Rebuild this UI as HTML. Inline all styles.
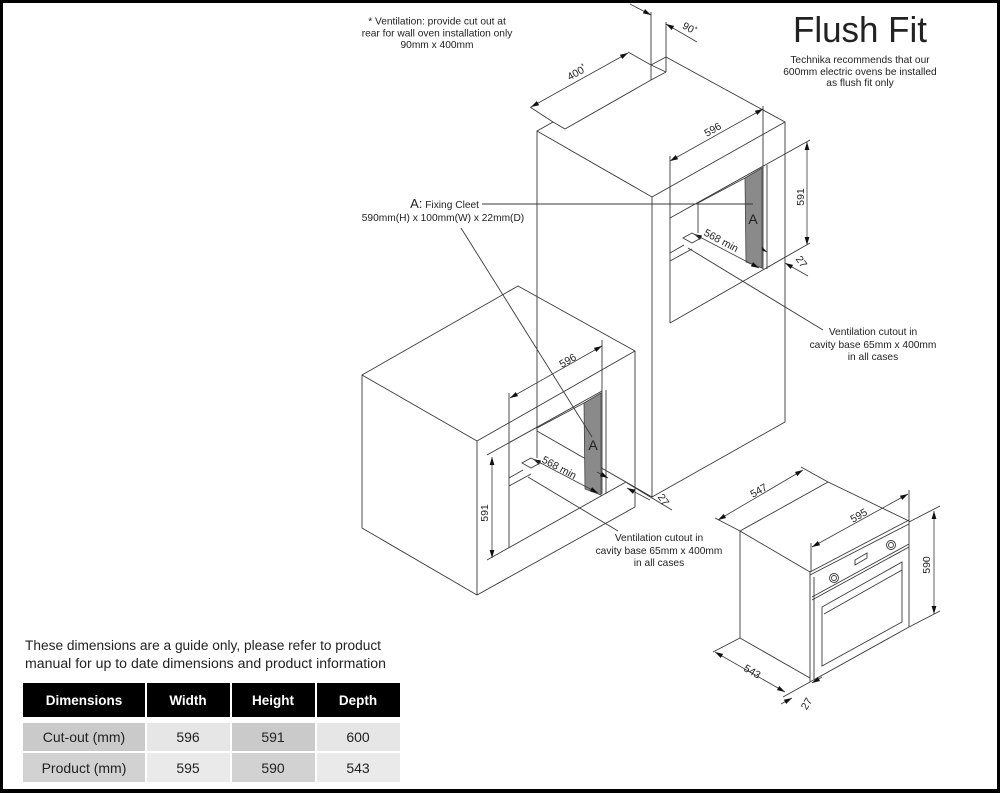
<!DOCTYPE html>
<html><head><meta charset="utf-8">
<style>
html,body{margin:0;padding:0;background:#fff}
svg{display:block}
.l{stroke:#3a3a3a;stroke-width:0.9;fill:none}
.d{stroke:#3a3a3a;stroke-width:0.8;fill:none;marker-start:url(#ar);marker-end:url(#ar)}
.e{stroke:#3a3a3a;stroke-width:0.8;fill:none;marker-end:url(#ar)}
text{font-family:"Liberation Sans",Arial,sans-serif;fill:#222}
.t{font-size:10.2px}
.dim{font-size:10.5px}
.tb{font-size:14px;fill:#222}
.th{font-size:13.5px;font-weight:bold;fill:#fff}
</style></head>
<body>
<svg width="1000" height="793" viewBox="0 0 1000 793" xmlns="http://www.w3.org/2000/svg">
<defs>
<marker id="ar" markerUnits="userSpaceOnUse" markerWidth="8" markerHeight="6" refX="8" refY="3" orient="auto-start-reverse" viewBox="0 0 8 6">
<path d="M0,0.6 L8,3 L0,5.4Z" fill="#111"/>
</marker>
</defs>
<rect x="0" y="0" width="1000" height="793" fill="#fff"/>

<!-- ===== TALL CABINET ===== -->
<polygon points="537,131 553,122 565,129 651,80 651,65 666,57 785,122 785,422 652,497 537,431" fill="#fff"/>
<polyline class="l" points="537,431 537,131 553,122 565,129 651,80"/>
<polyline class="l" points="651,65 666,57 785,122 785,422 652,497 537,431"/>
<polyline class="l" points="537,131 652,197 785,122"/>
<line class="l" x1="652" y1="197" x2="652" y2="497"/>
<line class="l" x1="651" y1="12" x2="651" y2="80"/>
<line class="l" x1="666" y1="22" x2="666" y2="72"/>
<line class="l" x1="666" y1="72" x2="651" y2="80"/>
<line class="l" x1="651" y1="65" x2="666" y2="72"/>
<!-- 90 dim -->
<line class="e" x1="630" y1="4" x2="651" y2="15"/>
<line class="e" x1="697" y1="42" x2="666" y2="24"/>
<text class="t" transform="translate(689,29) rotate(30)" text-anchor="middle" dominant-baseline="central">90<tspan font-size="7" dy="-3">*</tspan></text>
<!-- 400 dim -->
<line class="l" x1="530" y1="107" x2="553" y2="122"/>
<line class="l" x1="628" y1="52" x2="651" y2="65"/>
<line class="d" x1="531" y1="107" x2="628" y2="53"/>
<text class="dim" transform="translate(577,73) rotate(-30)" text-anchor="middle" dominant-baseline="central">400<tspan font-size="7" dy="-3">*</tspan></text>

<!-- tall opening -->
<line class="l" x1="670" y1="218" x2="810" y2="140"/>
<line class="l" x1="670" y1="323" x2="810" y2="243"/>
<line class="l" x1="670" y1="156" x2="670" y2="323"/>
<line class="l" x1="763" y1="106" x2="763" y2="269"/>
<line class="l" x1="767" y1="165" x2="767" y2="269"/>
<line class="d" x1="670" y1="161" x2="763" y2="109"/>
<text class="dim" transform="translate(713,130) rotate(-30)" text-anchor="middle" dominant-baseline="central">596</text>
<line class="d" x1="807" y1="142" x2="807" y2="245"/>
<text class="dim" transform="translate(801,197) rotate(-90)" text-anchor="middle" dominant-baseline="central">591</text>
<!-- 27 tall -->
<line class="e" x1="755" y1="245" x2="767" y2="252"/>
<line class="e" x1="808" y1="276" x2="785" y2="263"/>
<text class="dim" transform="translate(801,262) rotate(55)" text-anchor="middle" dominant-baseline="central">27</text>
<!-- tall interior -->
<polyline class="l" points="698,233 698,203 745,178"/>
<polygon points="745,178 762,168 762,268 746,262" fill="#8a8a8a" stroke="#444" stroke-width="0.8"/>
<line class="d" x1="694" y1="234" x2="759" y2="268"/>
<text class="dim" transform="translate(721,241) rotate(28)" text-anchor="middle" dominant-baseline="central">568 min</text>
<polygon class="l" points="683,238 692,233 701,238 692,243"/>
<line class="l" x1="670" y1="253" x2="684" y2="245"/>
<line class="l" x1="670" y1="261" x2="692" y2="249"/>
<line class="l" x1="688" y1="248" x2="823" y2="330"/>
<text x="753" y="224" font-size="14" text-anchor="middle">A</text>
<text class="t" x="873" y="335" text-anchor="middle">Ventilation cutout in</text>
<text class="t" x="873" y="348" text-anchor="middle">cavity base 65mm x 400mm</text>
<text class="t" x="873" y="360" text-anchor="middle">in all cases</text>

<!-- ===== LOWER CABINET ===== -->
<polygon class="l" points="362,375 518,286 635,351 635,507 477,595 362,528" fill="#fff"/>
<polyline class="l" points="362,375 477,441 635,351"/>
<line class="l" x1="477" y1="441" x2="477" y2="595"/>
<!-- lower opening -->
<line class="l" x1="487" y1="455" x2="602" y2="391"/>
<line class="l" x1="487" y1="560" x2="626" y2="482"/>
<line class="l" x1="509" y1="393" x2="509" y2="548"/>
<line class="l" x1="602" y1="340" x2="602" y2="494"/>
<line class="l" x1="606" y1="390" x2="606" y2="494"/>
<line class="d" x1="510" y1="398" x2="602" y2="346"/>
<text class="dim" transform="translate(568,361) rotate(-30)" text-anchor="middle" dominant-baseline="central">596</text>
<line class="d" x1="492" y1="457" x2="492" y2="558"/>
<text class="dim" transform="translate(485,513) rotate(-90)" text-anchor="middle" dominant-baseline="central">591</text>
<!-- lower interior -->
<polyline class="l" points="537,458 537,428 584,403"/>
<polygon points="584,403 601,393 601,495 585,489" fill="#8a8a8a" stroke="#444" stroke-width="0.8"/>
<line class="d" x1="533" y1="459" x2="598" y2="493"/>
<text class="dim" transform="translate(559,468) rotate(28)" text-anchor="middle" dominant-baseline="central">568 min</text>
<polygon class="l" points="522,463 531,458 540,463 531,468"/>
<line class="l" x1="509" y1="478" x2="523" y2="470"/>
<line class="l" x1="509" y1="486" x2="531" y2="474"/>
<line class="l" x1="528" y1="477" x2="618" y2="531"/>
<text x="593" y="450" font-size="14" text-anchor="middle">A</text>
<!-- lower 27 -->
<line class="e" x1="597" y1="472" x2="608" y2="478"/>
<line class="l" x1="627" y1="483" x2="672" y2="510"/>
<line class="e" x1="650" y1="500" x2="627" y2="488"/>
<text class="dim" transform="translate(663,500) rotate(55)" text-anchor="middle" dominant-baseline="central">27</text>
<text class="t" x="659" y="541" text-anchor="middle">Ventilation cutout in</text>
<text class="t" x="659" y="554" text-anchor="middle">cavity base 65mm x 400mm</text>
<text class="t" x="659" y="566" text-anchor="middle">in all cases</text>

<!-- leaders for A -->
<line class="l" x1="482" y1="204" x2="753" y2="204"/>
<line class="l" x1="461" y1="228" x2="592" y2="437"/>

<!-- ===== OVEN ===== -->
<polygon points="740,531 828,482 909,521 909,627 810,682 740,638" fill="#fff"/>
<polyline class="l" points="740,531 828,482 909,521"/>
<polyline class="l" points="740,531 810,572 909,520"/>
<line class="l" x1="810" y1="575" x2="909" y2="524"/>
<line class="l" x1="740" y1="531" x2="740" y2="638"/>
<line class="l" x1="740" y1="638" x2="810" y2="678"/>
<line class="l" x1="810" y1="572" x2="810" y2="682"/>
<line class="l" x1="814" y1="577" x2="814" y2="680"/>
<line class="l" x1="810" y1="682" x2="909" y2="627"/>
<line class="l" x1="909" y1="520" x2="909" y2="627"/>
<line class="l" x1="812" y1="597" x2="909" y2="544"/>
<line class="l" x1="812" y1="600" x2="909" y2="547"/>
<circle class="l" cx="834" cy="578" r="4.5"/>
<circle class="l" cx="834" cy="578" r="2.5"/>
<circle class="l" cx="891" cy="545" r="4.5"/>
<circle class="l" cx="891" cy="545" r="2.5"/>
<polygon class="l" points="855,560 867,553 867,558 855,565"/>
<polygon class="l" points="822,607 902,562 902,622 822,666"/>
<line class="l" x1="824" y1="614" x2="902" y2="570"/>
<!-- oven dims -->
<line class="l" x1="740" y1="531" x2="715" y2="518"/>
<line class="l" x1="828" y1="482" x2="801" y2="467"/>
<line class="d" x1="718" y1="520" x2="803" y2="470"/>
<text class="dim" transform="translate(759,491) rotate(-30)" text-anchor="middle" dominant-baseline="central">547</text>
<line class="l" x1="811" y1="543" x2="811" y2="572"/>
<line class="l" x1="909" y1="490" x2="909" y2="520"/>
<line class="d" x1="812" y1="547" x2="908" y2="494"/>
<text class="dim" transform="translate(859,516) rotate(-30)" text-anchor="middle" dominant-baseline="central">595</text>
<line class="l" x1="909" y1="522" x2="940" y2="506"/>
<line class="l" x1="909" y1="627" x2="940" y2="611"/>
<line class="d" x1="934" y1="511" x2="934" y2="614"/>
<text class="dim" transform="translate(927,565) rotate(-90)" text-anchor="middle" dominant-baseline="central">590</text>
<line class="l" x1="740" y1="638" x2="713" y2="652"/>
<line class="l" x1="810" y1="682" x2="783" y2="697"/>
<line class="d" x1="715" y1="652" x2="785" y2="692"/>
<text class="dim" transform="translate(752,672) rotate(30)" text-anchor="middle" dominant-baseline="central">543</text>
<line class="e" x1="781" y1="704" x2="792" y2="698"/>
<line class="e" x1="822" y1="677" x2="812" y2="683"/>
<text class="dim" transform="translate(807,704) rotate(-60)" text-anchor="middle" dominant-baseline="central">27</text>

<!-- ===== TEXT ===== -->
<text class="t" x="437" y="24.5" text-anchor="middle">* Ventilation: provide cut out at</text>
<text class="t" x="437" y="36.5" text-anchor="middle">rear for wall oven installation only</text>
<text class="t" x="437" y="48" text-anchor="middle">90mm x 400mm</text>
<text x="479" y="208" text-anchor="end"><tspan font-size="13">A:</tspan><tspan font-size="10.2"> Fixing Cleet</tspan></text>
<text class="t" x="443" y="221" text-anchor="middle">590mm(H) x 100mm(W) x 22mm(D)</text>

<text x="793" y="42" font-size="36" textLength="134" lengthAdjust="spacingAndGlyphs" fill="#111">Flush Fit</text>
<text class="t" x="860" y="63" text-anchor="middle">Technika recommends that our</text>
<text class="t" x="860" y="75" text-anchor="middle">600mm electric ovens be installed</text>
<text class="t" x="860" y="86" text-anchor="middle">as flush fit only</text>

<!-- ===== TABLE ===== -->
<text x="25" y="650" font-size="13.5" textLength="356" lengthAdjust="spacingAndGlyphs" fill="#111">These dimensions are a guide only, please refer to product</text>
<text x="25" y="668" font-size="13.5" textLength="361" lengthAdjust="spacingAndGlyphs" fill="#111">manual for up to date dimensions and product information</text>

<rect x="23" y="683" width="122" height="34" fill="#000"/>
<rect x="147" y="683" width="83" height="34" fill="#000"/>
<rect x="232" y="683" width="83" height="34" fill="#000"/>
<rect x="317" y="683" width="83" height="34" fill="#000"/>
<text class="th" x="84" y="705" text-anchor="middle">Dimensions</text>
<text class="th" x="188" y="705" text-anchor="middle">Width</text>
<text class="th" x="273" y="705" text-anchor="middle">Height</text>
<text class="th" x="358" y="705" text-anchor="middle">Depth</text>

<rect x="23" y="723" width="122" height="28" fill="#cacaca"/>
<rect x="147" y="723" width="83" height="28" fill="#e6e6e6"/>
<rect x="232" y="723" width="83" height="28" fill="#cacaca"/>
<rect x="317" y="723" width="83" height="28" fill="#e6e6e6"/>
<text class="tb" x="84" y="742" text-anchor="middle">Cut-out (mm)</text>
<text class="tb" x="188" y="742" text-anchor="middle">596</text>
<text class="tb" x="273" y="742" text-anchor="middle">591</text>
<text class="tb" x="358" y="742" text-anchor="middle">600</text>

<rect x="23" y="753" width="122" height="29" fill="#d2d2d2"/>
<rect x="147" y="753" width="83" height="29" fill="#eaeaea"/>
<rect x="232" y="753" width="83" height="29" fill="#d2d2d2"/>
<rect x="317" y="753" width="83" height="29" fill="#eaeaea"/>
<text class="tb" x="84" y="773" text-anchor="middle">Product (mm)</text>
<text class="tb" x="188" y="773" text-anchor="middle">595</text>
<text class="tb" x="273" y="773" text-anchor="middle">590</text>
<text class="tb" x="358" y="773" text-anchor="middle">543</text>

<!-- frame -->
<rect x="0" y="0" width="1000" height="3" fill="#000"/>
<rect x="0" y="0" width="3" height="793" fill="#000"/>
<rect x="997" y="0" width="3" height="793" fill="#000"/>
<rect x="0" y="789" width="1000" height="4" fill="#000"/>
</svg>
</body></html>
